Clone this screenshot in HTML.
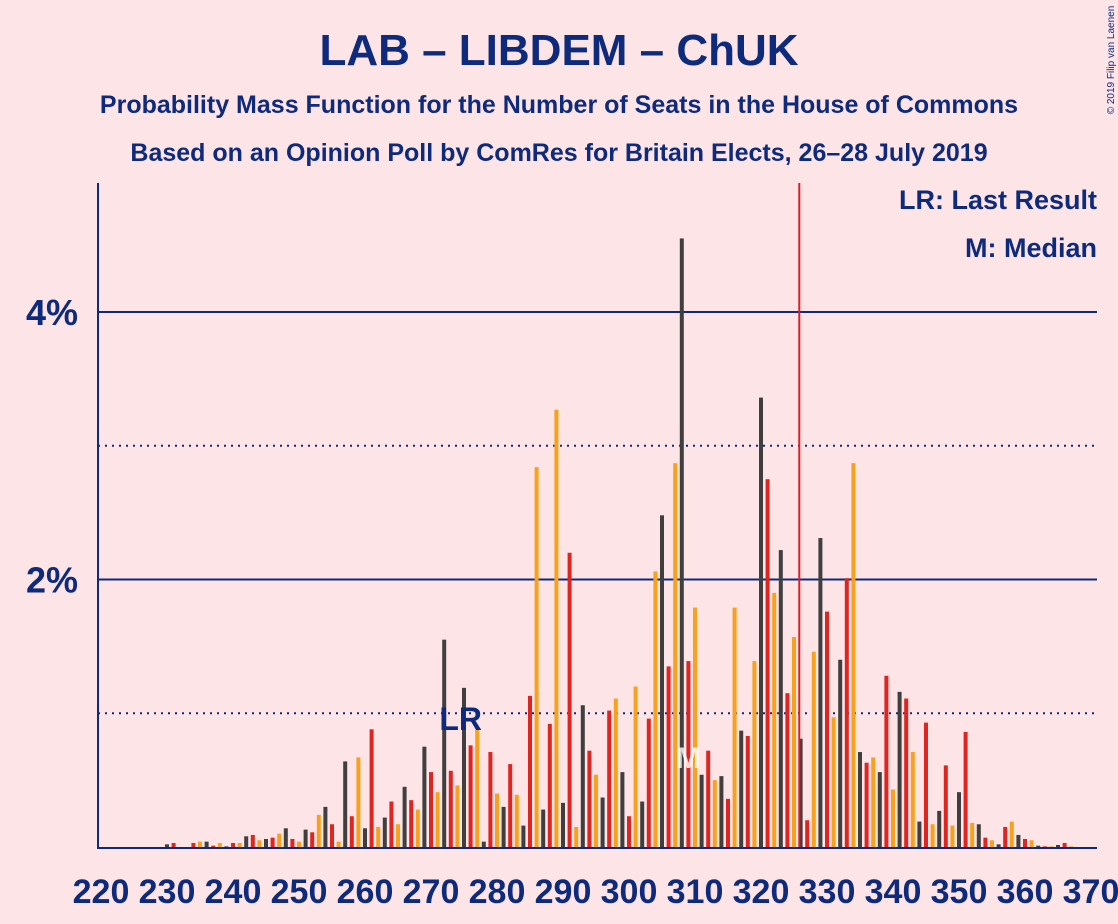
<!DOCTYPE html>
<html><head><meta charset="utf-8"><style>
html,body{margin:0;padding:0;background:#fde4e7;}
svg{display:block;font-family:"Liberation Sans",sans-serif;}
</style></head><body>
<svg width="1118" height="924" viewBox="0 0 1118 924">
<rect width="1118" height="924" fill="#fde4e7"/>
<text x="559" y="65" text-anchor="middle" font-size="44" font-weight="bold" fill="#0d2a7c">LAB – LIBDEM – ChUK</text>
<text x="559" y="113" text-anchor="middle" font-size="25" font-weight="bold" fill="#0d2a7c">Probability Mass Function for the Number of Seats in the House of Commons</text>
<text x="559" y="161" text-anchor="middle" font-size="25" font-weight="bold" fill="#0d2a7c">Based on an Opinion Poll by ComRes for Britain Elects, 26–28 July 2019</text>
<text x="1114" y="60" font-size="10" fill="#0d2a7c" transform="rotate(-90 1114 60)" text-anchor="middle">© 2019 Filip van Laenen</text>
<g id="grid"></g>
<g id="bars"></g>
<g id="axes"></g>
<text x="1097" y="209" text-anchor="end" font-size="27" font-weight="bold" fill="#0d2a7c">LR: Last Result</text>
<text x="1097" y="257" text-anchor="end" font-size="27" font-weight="bold" fill="#0d2a7c">M: Median</text>
</svg>
<script>
const seatStart = 220;
const probs = [0,0,0,0,0,0,0,0,0,0,
0.02,0.03,0,0,0.03,0.04,0.04,0.01,0.03,0.005,
0.03,0.03,0.08,0.09,0.05,0.06,0.07,0.1,0.14,0.06,
0.04,0.13,0.11,0.24,0.3,0.17,0.04,0.64,0.23,0.67,
0.14,0.88,0.15,0.22,0.34,0.17,0.45,0.35,0.28,0.75,
0.56,0.41,1.55,0.57,0.46,1.19,0.76,0.88,0.04,0.71,
0.4,0.3,0.62,0.39,0.16,1.13,2.84,0.28,0.92,3.27,
0.33,2.2,0.15,1.06,0.72,0.54,0.37,1.02,1.11,0.56,
0.23,1.2,0.34,0.96,2.06,2.48,1.35,2.87,4.55,1.39,
1.79,0.54,0.72,0.5,0.53,0.36,1.79,0.87,0.83,1.39,
3.36,2.75,1.9,2.22,1.15,1.57,0.81,0.2,1.46,2.31,
1.76,0.97,1.4,2.01,2.87,0.71,0.63,0.67,0.56,1.28,
0.43,1.16,1.11,0.71,0.19,0.93,0.17,0.27,0.61,0.16,
0.41,0.86,0.18,0.17,0.07,0.05,0.02,0.15,0.19,0.09,
0.06,0.05,0.01,0.005,0.005,0.015,0.03,0.005,0,0,0];
const xTicks = [220,230,240,250,260,270,280,290,300,310,320,330,340,350,360,370];
const yTicks = [1,2,3,4];
const yTickLabels = ["","2%","","4%"];
const lastResult = 274.5;
const medianSeat = 309;
const majority = 325.8;

const NS="http://www.w3.org/2000/svg";
const x0=101, pxSeat=6.6, yBase=847, pxPct=133.75;
const sx=s=>x0+(s-seatStart)*pxSeat;
const sy=v=>yBase-v*pxPct;
function mk(tag,attrs,parent){const e=document.createElementNS(NS,tag);for(const k in attrs)e.setAttribute(k,attrs[k]);parent.appendChild(e);return e;}
const grid=document.getElementById('grid'),bars=document.getElementById('bars'),axes=document.getElementById('axes');
yTicks.forEach((t,i)=>{
  const solid=t%2===0;
  const l=mk('line',{x1:98,x2:1097,y1:sy(t),y2:sy(t),stroke:'#0d2a7c','stroke-width':solid?2:2,'stroke-dasharray':solid?'none':'2,5'},grid);
  
  
  if(yTickLabels[i]){
    const tx=mk('text',{x:78,y:sy(t)+13,'text-anchor':'end','font-size':36,'font-weight':'bold',fill:'#0d2a7c'},axes);
    tx.textContent=yTickLabels[i];
    
    
  }
});
const colors=['#e0241f','#f9a11b','#3f3f3f']; // mod3: 0 red,1 orange,2 dark
probs.forEach((p,i)=>{
  const s=seatStart+i;
  if(p<=0)return;
  const r=mk('rect',{x:sx(s)-2,y:sy(p),width:4,height:yBase-sy(p),fill:colors[s%3]},bars);
  
  
});
const ml=mk('line',{x1:sx(majority),x2:sx(majority),y1:183,y2:yBase,stroke:'#d8202a','stroke-width':2},axes);


const lr=mk('text',{x:sx(lastResult),y:730,'text-anchor':'middle','font-size':32,'font-weight':'bold',fill:'#0d2a7c'},axes);
lr.textContent='LR';


const md=mk('text',{x:sx(medianSeat),y:768,'text-anchor':'middle','font-size':30,'font-weight':'bold',fill:'#ffffff','fill-opacity':0.8},axes);
md.textContent='M';


const ya=mk('line',{x1:98,x2:98,y1:183,y2:848,stroke:'#0d2a7c','stroke-width':2},axes);


const xa=mk('line',{x1:97,x2:1097,y1:848,y2:848,stroke:'#0d2a7c','stroke-width':2},axes);


xTicks.forEach(t=>{
  const tx=mk('text',{x:sx(t),y:903,'text-anchor':'middle','font-size':34,'font-weight':'bold',fill:'#0d2a7c'},axes);
  tx.textContent=t;
  
  
});
</script>
</body></html>
